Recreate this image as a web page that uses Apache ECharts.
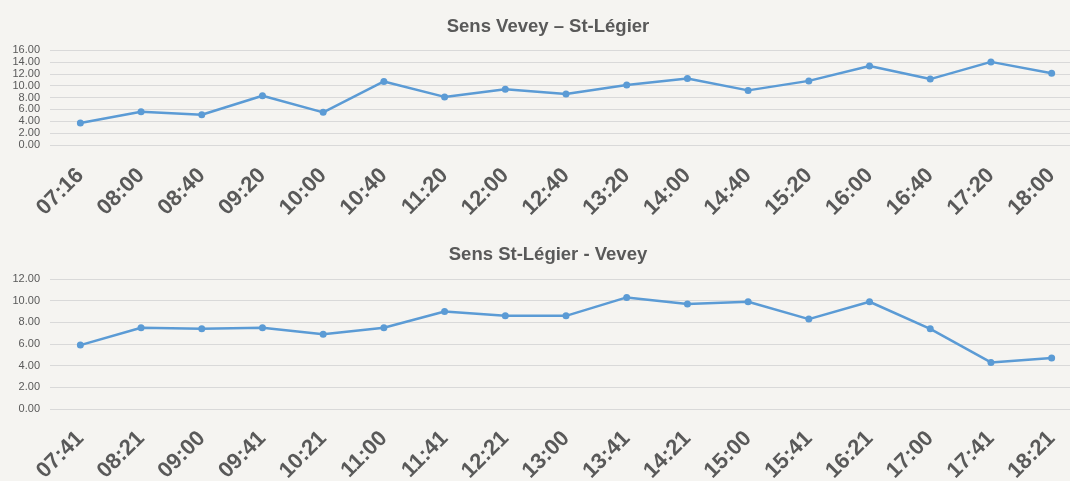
<!DOCTYPE html>
<html>
<head>
<meta charset="utf-8">
<style>
  html, body { margin: 0; padding: 0; background: #f5f4f1; overflow: hidden; }
  /* plot area runs past the right edge of the window, as in the original crop */
  #chart { width: 1082px; height: 481px; }
</style>
<script src="https://cdn.jsdelivr.net/npm/echarts@6/dist/echarts.min.js"></script>
</head>
<body>
<div id="chart"></div>
<script>
// Sens Vevey – St-Légier
const timesUp = ['07:16', '08:00', '08:40', '09:20', '10:00', '10:40', '11:20', '12:00', '12:40',
  '13:20', '14:00', '14:40', '15:20', '16:00', '16:40', '17:20', '18:00'];
const valuesUp = [3.7, 5.6, 5.1, 8.3, 5.5, 10.7, 8.1, 9.4, 8.6, 10.1, 11.2, 9.2, 10.8, 13.3, 11.1, 14.0, 12.1];

// Sens St-Légier - Vevey
const timesDown = ['07:41', '08:21', '09:00', '09:41', '10:21', '11:00', '11:41', '12:21', '13:00',
  '13:41', '14:21', '15:00', '15:41', '16:21', '17:00', '17:41', '18:21'];
const valuesDown = [5.9, 7.5, 7.4, 7.5, 6.9, 7.5, 9.0, 8.6, 8.6, 10.3, 9.7, 9.9, 8.3, 9.9, 7.4, 4.3, 4.7];

const chart = echarts.init(document.getElementById('chart'), null, { renderer: 'canvas' });

const font = 'Liberation Sans, Arial, sans-serif';
const grey = '#595959';
const blue = '#5b9bd5';

function xAxis(idx, data, margin) {
  return {
    type: 'category',
    gridIndex: idx,
    data: data,
    boundaryGap: true,
    axisLine: { show: false },
    axisTick: { show: false },
    axisLabel: {
      rotate: 45,
      margin: margin,
      interval: 0,
      color: grey,
      fontSize: 22,
      fontWeight: 'bold',
      fontFamily: font
    }
  };
}

function yAxis(idx, max) {
  return {
    type: 'value',
    gridIndex: idx,
    min: 0,
    max: max,
    interval: 2,
    axisLine: { show: false },
    axisTick: { show: false },
    axisLabel: {
      margin: 10,
      color: grey,
      fontSize: 11,
      fontFamily: font,
      formatter: v => v.toFixed(2)
    },
    splitLine: { lineStyle: { color: '#d9d9d9', width: 1 } }
  };
}

function lineSeries(idx, data) {
  return {
    type: 'line',
    xAxisIndex: idx,
    yAxisIndex: idx,
    data: data,
    symbol: 'circle',
    symbolSize: 7,
    lineStyle: { color: blue, width: 2.5 },
    itemStyle: { color: blue },
    silent: true
  };
}

const option = {
  backgroundColor: '#f5f4f1',
  animation: false,
  title: [{
    text: 'Sens Vevey – St-Légier',
    left: 543,
    top: 12,
    textAlign: 'center',
    textStyle: { color: grey, fontSize: 18.5, fontWeight: 'bold', fontFamily: font }
  }, {
    text: 'Sens St-Légier - Vevey',
    left: 543,
    top: 240,
    textAlign: 'center',
    textStyle: { color: grey, fontSize: 18.5, fontWeight: 'bold', fontFamily: font }
  }],
  grid: [
    { left: 50, right: 0, top: 50, height: 95, outerBoundsMode: 'none' },
    { left: 50, right: 0, top: 279, height: 130, outerBoundsMode: 'none' }
  ],
  xAxis: [xAxis(0, timesUp, 27), xAxis(1, timesDown, 26)],
  yAxis: [yAxis(0, 16), yAxis(1, 12)],
  series: [lineSeries(0, valuesUp), lineSeries(1, valuesDown)]
};

chart.setOption(option);
</script>
</body>
</html>
